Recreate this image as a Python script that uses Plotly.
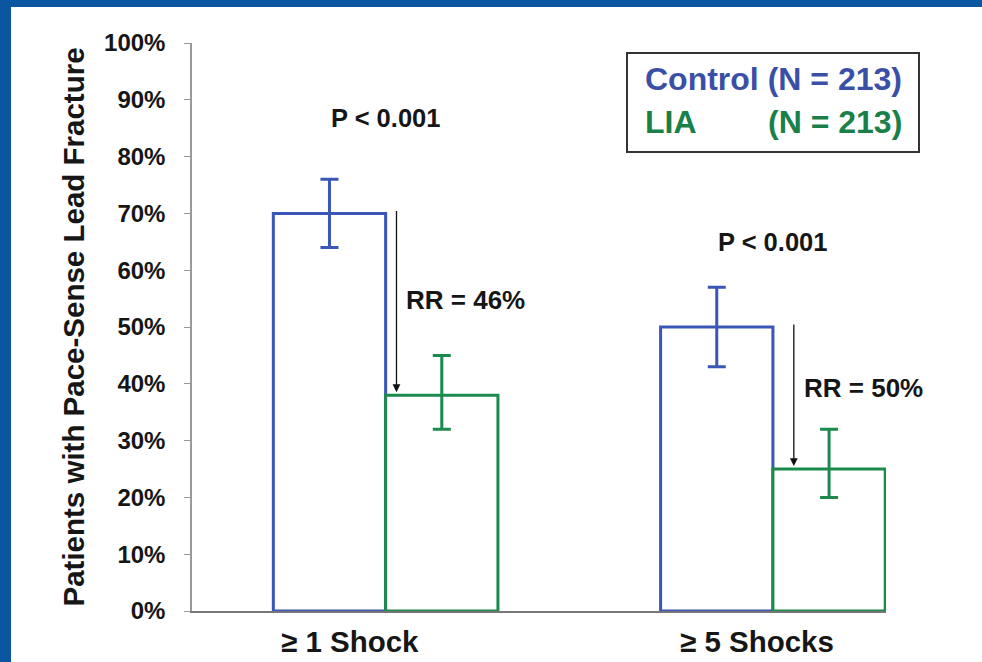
import plotly.graph_objects as go

# ---- data ----
categories = ["≥ 1 Shock", "≥ 5 Shocks"]
control_vals = [70, 50]
control_err_plus = [6, 7]
control_err_minus = [6, 7]
lia_vals = [38, 25]
lia_err_plus = [7, 7]
lia_err_minus = [6, 5]
p_labels = ["P < 0.001", "P < 0.001"]
rr_labels = ["RR = 46%", "RR = 50%"]
y_ticks = [0, 10, 20, 30, 40, 50, 60, 70, 80, 90, 100]
y_ticklabels = [f"{v}%" for v in y_ticks]
legend_names = ["Control", "LIA"]
legend_n = ["(N = 213)", "(N = 213)"]

# ---- styles ----
W, H = 982, 662
ML, MR, MT, MB = 192, 96, 43, 51
PW, PH = W - ML - MR, H - MT - MB
BLUE = "#3a56b6"
GREEN = "#1b8a4c"
BLUE_TXT = "#3a4fa6"
GREEN_TXT = "#1a7f48"
FRAME = "#0b56a0"
FONT = "Liberation Sans, Arial, sans-serif"
TXT = "#161616"


def px_x(px):
    return (px - ML) / PW


def px_y(py):
    return (H - MB - py) / PH


def f(size, color=TXT):
    return dict(family=FONT, size=size, color=color, weight="bold")


xs = list(range(len(categories)))

fig = go.Figure()
fig.add_trace(go.Bar(
    x=xs, y=control_vals, name=legend_names[0],
    marker=dict(color="white", line=dict(color=BLUE, width=3)),
    error_y=dict(type="data", array=control_err_plus, arrayminus=control_err_minus,
                 color=BLUE, thickness=3, width=9),
    showlegend=False,
))
fig.add_trace(go.Bar(
    x=xs, y=lia_vals, name=legend_names[1],
    marker=dict(color="white", line=dict(color=GREEN, width=3)),
    error_y=dict(type="data", array=lia_err_plus, arrayminus=lia_err_minus,
                 color=GREEN, thickness=3, width=9),
    showlegend=False,
))

annotations = []
# P values
p_pos = [(0, 86.8), (1, 65.0)]
for (x, y), t in zip(p_pos, p_labels):
    annotations.append(dict(x=x, y=y, xref="x", yref="y", text=t, showarrow=False,
                            font=f(25.5)))
# RR labels
rr_pos = [(0.207, 54.8), (1.235, 39.3)]
for (x, y), t in zip(rr_pos, rr_labels):
    annotations.append(dict(x=x, y=y, xref="x", yref="y", text=t, showarrow=False,
                            font=f(26)))
# arrows from control level to LIA level
arrow_dx = [0.028, 0.054]
for i in xs:
    ax = i + arrow_dx[i]
    annotations.append(dict(x=ax, y=lia_vals[i], xref="x", yref="y",
                            ax=ax, ay=control_vals[i] + 0.7, axref="x", ayref="y",
                            text="", showarrow=True, arrowhead=2, arrowsize=1.2,
                            arrowwidth=1.3, arrowcolor="#111", standoff=3))
# category labels
cat_shift = [-36, -16]
for i, c in enumerate(categories):
    annotations.append(dict(x=i, y=0, xref="x", yref="y", text=c, showarrow=False,
                            yanchor="top", yshift=-12, xshift=cat_shift[i],
                            font=f(29.5)))
# legend text
annotations.append(dict(x=px_x(643), y=px_y(79), xref="paper", yref="paper",
                        text=f"{legend_names[0]} {legend_n[0]}", showarrow=False,
                        xanchor="left", yanchor="middle", font=f(32, BLUE_TXT)))
annotations.append(dict(x=px_x(643), y=px_y(122), xref="paper", yref="paper",
                        text=legend_names[1], showarrow=False,
                        xanchor="left", yanchor="middle", font=f(32, GREEN_TXT)))
annotations.append(dict(x=px_x(904), y=px_y(122), xref="paper", yref="paper",
                        text=legend_n[1], showarrow=False,
                        xanchor="right", yanchor="middle", font=f(32, GREEN_TXT)))

shapes = [
    # legend box
    dict(type="rect", xref="paper", yref="paper",
         x0=px_x(627), x1=px_x(919), y0=px_y(152), y1=px_y(53),
         line=dict(color="#333", width=2), fillcolor="white", layer="below"),
    # slide frame: left and top bands
    dict(type="rect", xref="paper", yref="paper",
         x0=px_x(0), x1=px_x(11), y0=px_y(H), y1=px_y(0),
         line=dict(width=0), fillcolor=FRAME, layer="above"),
    dict(type="rect", xref="paper", yref="paper",
         x0=px_x(0), x1=px_x(W), y0=px_y(7), y1=px_y(0),
         line=dict(width=0), fillcolor=FRAME, layer="above"),
]

fig.update_layout(
    width=W, height=H,
    margin=dict(l=ML, r=MR, t=MT, b=MB, pad=0),
    paper_bgcolor="white", plot_bgcolor="white",
    barmode="group", bargap=0.42, bargroupgap=0,
    font=dict(family=FONT, color=TXT),
    annotations=annotations, shapes=shapes,
    xaxis=dict(range=[-0.5, 1.292], showticklabels=False, showgrid=False,
               zeroline=False, showline=True, linecolor="#777", linewidth=2,
               ticks=""),
    yaxis=dict(range=[0, 100], tickvals=y_ticks, ticktext=y_ticklabels,
               showgrid=False, zeroline=False, showline=True, linecolor="#999",
               linewidth=1.5, ticks="outside", ticklen=6, tickcolor="#999",
               ticklabelstandoff=14,
               tickfont=f(24),
               title=dict(text="Patients with Pace-Sense Lead Fracture",
                          font=f(29.5), standoff=11)),
)

fig.write_html("out.html")
